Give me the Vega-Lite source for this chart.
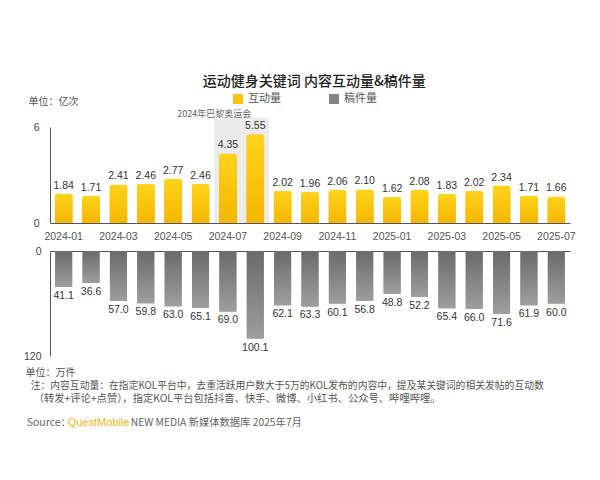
{
  "$schema": "https://vega.github.io/schema/vega-lite/v6.json",
  "background": "white",
  "padding": {"left": 23, "top": 75, "right": 10, "bottom": 10},
  "title": {"text": "运动健身关键词 内容互动量&稿件量", "font": "Noto Sans CJK SC", "fontSize": 14, "fontWeight": 500, "color": "#222222", "anchor": "middle", "offset": 4, "dx": 15},
  "datasets": {
    "m": [
      {"month": "2024-01", "hd": 1.84, "gj": 41.1},
      {"month": "2024-02", "hd": 1.71, "gj": 36.6},
      {"month": "2024-03", "hd": 2.41, "gj": 57.0},
      {"month": "2024-04", "hd": 2.46, "gj": 59.8},
      {"month": "2024-05", "hd": 2.77, "gj": 63.0},
      {"month": "2024-06", "hd": 2.46, "gj": 65.1},
      {"month": "2024-07", "hd": 4.35, "gj": 69.0},
      {"month": "2024-08", "hd": 5.55, "gj": 100.1},
      {"month": "2024-09", "hd": 2.02, "gj": 62.1},
      {"month": "2024-10", "hd": 1.96, "gj": 63.3},
      {"month": "2024-11", "hd": 2.06, "gj": 60.1},
      {"month": "2024-12", "hd": 2.10, "gj": 56.8},
      {"month": "2025-01", "hd": 1.62, "gj": 48.8},
      {"month": "2025-02", "hd": 2.08, "gj": 52.2},
      {"month": "2025-03", "hd": 1.83, "gj": 65.4},
      {"month": "2025-04", "hd": 2.02, "gj": 66.0},
      {"month": "2025-05", "hd": 2.34, "gj": 71.6},
      {"month": "2025-06", "hd": 1.71, "gj": 61.9},
      {"month": "2025-07", "hd": 1.66, "gj": 60.0}
    ],
    "event": [{"label": "2024年巴黎奥运会"}],
    "notes": [
      {"line1": "注：内容互动量：在指定KOL平台中，去重活跃用户数大于5万的KOL发布的内容中，提及某关键词的相关发帖的互动数",
       "line2": "（转发+评论+点赞），指定KOL平台包括抖音、快手、微博、小红书、公众号、哔哩哔哩。",
       "src": "Source：", "brand": "QuestMobile", "db": "NEW MEDIA 新媒体数据库 2025年7月"}
    ]
  },
  "spacing": 4,
  "vconcat": [
    {
      "width": 520,
      "height": 96,
      "data": {"name": "m"},
      "encoding": {
        "x": {"field": "month", "type": "ordinal", "scale": {"paddingInner": 0, "paddingOuter": 0},
          "axis": {"title": null, "values": ["2024-01","2024-03","2024-05","2024-07","2024-09","2024-11","2025-01","2025-03","2025-05","2025-07"], "ticks": false, "labelAngle": 0, "labelPadding": 8, "labelFontSize": 10.5, "labelColor": "#555555", "domainColor": "#555555", "labelFont": "Liberation Sans"}}
      },
      "layer": [
        {
          "transform": [{"filter": "datum.month == '2024-07' || datum.month == '2024-08'"}],
          "mark": {"type": "bar", "color": "#ececec", "width": {"band": 1}},
          "encoding": {"y": {"datum": 6.6, "type": "quantitative"}}
        },
        {
          "mark": {"type": "bar", "width": {"band": 0.66}, "cornerRadiusTopLeft": 3, "cornerRadiusTopRight": 3},
          "encoding": {
            "y": {"field": "hd", "type": "quantitative", "scale": {"domain": [0, 6]},
              "axis": {"values": [0, 2, 4, 6], "ticks": false, "grid": false, "labelPadding": 11, "labelFontSize": 10.5, "labelColor": "#444444", "domainColor": "#555555", "labelFont": "Liberation Sans",
                "title": "单位：亿次", "titleAngle": 0, "titleAlign": "left", "titleBaseline": "middle", "titleX": -22, "titleY": -26, "titleFont": "Noto Sans CJK SC", "titleFontWeight": "normal", "titleFontSize": 10, "titleColor": "#555555"}},
            "color": {"datum": "互动量", "scale": {"domain": ["互动量", "稿件量"], "range": ["#FBC30E", "#848484"]},
              "legend": {"title": null, "orient": "none", "direction": "horizontal", "legendX": 182, "legendY": -34, "symbolType": "square", "symbolSize": 100, "labelFont": "Noto Sans CJK SC", "labelFontSize": 11, "labelColor": "#555555", "columnPadding": 47}}
          }
        },
        {
          "mark": {"type": "bar", "width": {"band": 0.66}, "cornerRadiusTopLeft": 3, "cornerRadiusTopRight": 3,
            "fill": {"gradient": "linear", "x1": 0, "y1": 0, "x2": 0, "y2": 1, "stops": [{"offset": 0, "color": "#FFD41C"}, {"offset": 1, "color": "#F5B600"}]}},
          "encoding": {"y": {"field": "hd", "type": "quantitative"}}
        },
        {
          "mark": {"type": "text", "baseline": "bottom", "dy": -3, "font": "Liberation Sans", "fontSize": 10.5, "color": "#333333"},
          "encoding": {"y": {"field": "hd", "type": "quantitative"}, "text": {"field": "hd", "type": "quantitative", "format": ".2f"}}
        },
        {
          "data": {"name": "event"},
          "mark": {"type": "text", "baseline": "middle", "dx": -13.7, "font": "Noto Sans CJK SC", "fontSize": 9, "color": "#666666"},
          "encoding": {"x": {"datum": "2024-07"}, "y": {"datum": 6.8, "type": "quantitative"}, "text": {"field": "label", "type": "nominal"}}
        }
      ]
    },
    {
      "width": 520,
      "height": 105,
      "data": {"name": "m"},
      "encoding": {
        "x": {"field": "month", "type": "ordinal", "scale": {"paddingInner": 0, "paddingOuter": 0},
          "axis": {"title": null, "orient": "top", "labels": false, "ticks": false, "domainColor": "#555555"}}
      },
      "layer": [
        {
          "mark": {"type": "bar", "width": {"band": 0.62}},
          "encoding": {
            "y": {"field": "gj", "type": "quantitative", "scale": {"domain": [0, 120], "reverse": true},
              "axis": {"values": [0, 40, 80, 120], "ticks": false, "grid": false, "labelPadding": 9, "labelFontSize": 10.5, "labelColor": "#444444", "domainColor": "#555555", "labelFont": "Liberation Sans",
                "title": "单位：万件", "titleAngle": 0, "titleAlign": "left", "titleBaseline": "middle", "titleX": -25, "titleY": 121, "titleFont": "Noto Sans CJK SC", "titleFontWeight": "normal", "titleFontSize": 10, "titleColor": "#555555"}},
            "color": {"datum": "稿件量"}
          }
        },
        {
          "mark": {"type": "bar", "width": {"band": 0.62},
            "fill": {"gradient": "linear", "x1": 0, "y1": 0, "x2": 0, "y2": 1, "stops": [{"offset": 0, "color": "#6A6A6A"}, {"offset": 1, "color": "#9E9E9E"}]}},
          "encoding": {"y": {"field": "gj", "type": "quantitative"}}
        },
        {
          "mark": {"type": "text", "baseline": "top", "dy": 4, "font": "Liberation Sans", "fontSize": 10.5, "color": "#333333"},
          "encoding": {"y": {"field": "gj", "type": "quantitative"}, "text": {"field": "gj", "type": "quantitative", "format": ".1f"}}
        },
        {
          "data": {"name": "notes"},
          "mark": {"type": "text", "align": "left", "baseline": "middle", "dx": -33, "font": "Noto Sans CJK SC", "fontSize": 9.8, "color": "#555555"},
          "encoding": {"x": {"datum": "2024-01"}, "y": {"datum": 154, "type": "quantitative"}, "text": {"field": "line1", "type": "nominal"}}
        },
        {
          "data": {"name": "notes"},
          "mark": {"type": "text", "align": "left", "baseline": "middle", "dx": -30, "font": "Noto Sans CJK SC", "fontSize": 10.3, "color": "#555555"},
          "encoding": {"x": {"datum": "2024-01"}, "y": {"datum": 169, "type": "quantitative"}, "text": {"field": "line2", "type": "nominal"}}
        },
        {
          "data": {"name": "notes"},
          "mark": {"type": "text", "align": "left", "baseline": "middle", "dx": -37, "font": "Noto Sans CJK SC", "fontSize": 10.5, "color": "#666666"},
          "encoding": {"x": {"datum": "2024-01"}, "y": {"datum": 196, "type": "quantitative"}, "text": {"field": "src", "type": "nominal"}}
        },
        {
          "data": {"name": "notes"},
          "mark": {"type": "text", "align": "left", "baseline": "middle", "dx": 4, "font": "Liberation Sans", "fontSize": 11, "color": "#F2B521"},
          "encoding": {"x": {"datum": "2024-01"}, "y": {"datum": 196, "type": "quantitative"}, "text": {"field": "brand", "type": "nominal"}}
        },
        {
          "data": {"name": "notes"},
          "mark": {"type": "text", "align": "left", "baseline": "middle", "dx": 67, "font": "Noto Sans CJK SC", "fontSize": 10.3, "color": "#666666"},
          "encoding": {"x": {"datum": "2024-01"}, "y": {"datum": 196, "type": "quantitative"}, "text": {"field": "db", "type": "nominal"}}
        }
      ]
    }
  ],
  "config": {
    "view": {"stroke": null},
    "axis": {"grid": false}
  }
}
